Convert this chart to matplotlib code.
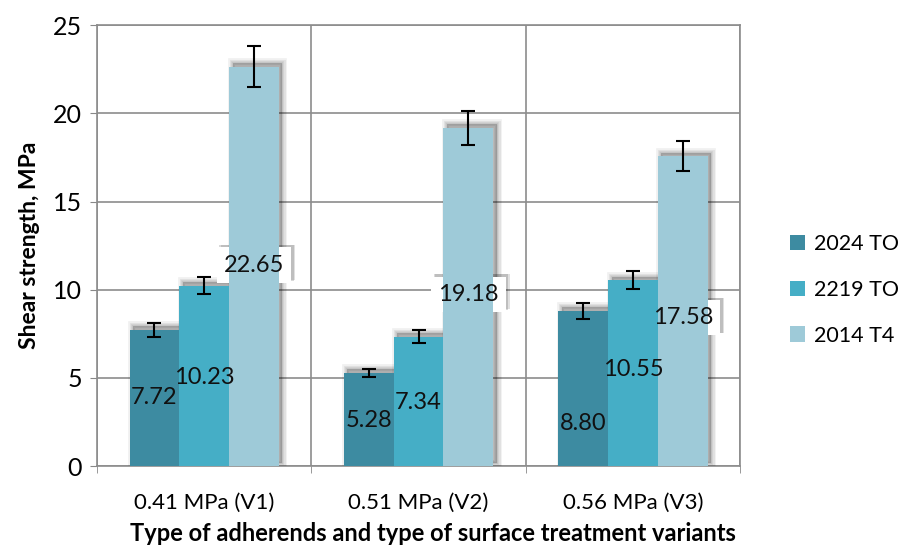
import numpy as np
import matplotlib
matplotlib.use('Agg')
import matplotlib.pyplot as plt
import matplotlib.patheffects as pe
import matplotlib.transforms as mtransforms
from matplotlib.patches import Patch

plt.rcParams['font.family'] = ['Lato', 'DejaVu Sans']

# data
categories = ['0.41 MPa (V1)', '0.51 MPa (V2)', '0.56 MPa (V3)']
series = ['2024 TO', '2219 TO', '2014 T4']
values = [[7.72, 5.28, 8.80],
          [10.23, 7.34, 10.55],
          [22.65, 19.18, 17.58]]
errors = [[0.40, 0.25, 0.45],
          [0.50, 0.35, 0.50],
          [1.15, 0.95, 0.85]]
# where the data labels sit (y in MPa)
label_y = [[3.9, 2.6, 2.4],
           [5.0, 3.6, 5.45],
           [11.4, 9.75, 8.4]]
colors = ['#3d8ba1', '#45aec6', '#9ecad8']

fig = plt.figure(figsize=(9.11, 5.47), dpi=100)
ax = fig.add_axes([0.1065, 0.148, 0.706, 0.806])

x = np.arange(len(categories))
w = 0.232
offsets = [-w, 0, w]

# soft shadow: stacked translucent copies shifted up/right
shift = mtransforms.ScaledTranslation(2.5 / 72, 2.5 / 72, fig.dpi_scale_trans)
for i in range(len(series)):
    for lw in [7, 5, 3, 1.5]:
        ax.bar(x + offsets[i], values[i], width=w, color='#000000', edgecolor='#000000',
               linewidth=lw, alpha=0.06, zorder=2.9, transform=ax.transData + shift)

for i, s in enumerate(series):
    ax.bar(x + offsets[i], values[i], width=w, color=colors[i], zorder=3 + i * 0.1)
    ax.errorbar(x + offsets[i], values[i], yerr=errors[i], fmt='none',
                ecolor='black', elinewidth=1.5, capsize=5, capthick=1.5, zorder=6)

# data labels
for i in range(len(series)):
    for j in range(len(categories)):
        txt = f'{values[i][j]:.2f}'
        if i == 2:
            # white label box sitting behind the light bar
            t = ax.text(x[j] + offsets[i], label_y[i][j], txt, ha='center', va='center',
                        fontsize=17, color='none', zorder=3.05,
                        bbox=dict(boxstyle='square,pad=0.3', fc='white', ec='none'))
            t.get_bbox_patch().set_path_effects(
                [pe.SimplePatchShadow(offset=(3, 2), shadow_rgbFace='#000000', alpha=0.12),
                 pe.SimplePatchShadow(offset=(2, 1.5), shadow_rgbFace='#000000', alpha=0.15),
                 pe.Normal()])
        ax.text(x[j] + offsets[i], label_y[i][j], txt,
                ha='center', va='center', fontsize=17, color='#111111', zorder=7)

ax.set_xlim(-0.5, 2.5)
ax.set_ylim(0, 25)
ax.set_yticks(np.arange(0, 26, 5))
ax.set_xticks(x)
ax.set_xticklabels(categories, fontsize=16)
ax.set_xticks([-0.5, 0.5, 1.5, 2.5], minor=True)
ax.tick_params(axis='x', which='major', length=0, pad=19)
ax.tick_params(axis='x', which='minor', length=5, color='#888888')
ax.tick_params(axis='y', labelsize=18, length=5, color='#888888', pad=6)

ax.grid(axis='y', color='#8c8c8c', linewidth=1.2, zorder=0)
ax.grid(axis='x', which='minor', color='#8c8c8c', linewidth=1.2, zorder=0)
ax.set_axisbelow(True)
for sp in ax.spines.values():
    sp.set_color('#8c8c8c')
    sp.set_linewidth(1.2)

ax.set_ylabel('Shear strength, MPa', fontsize=16.5, fontweight='bold', labelpad=9)
ax.set_xlabel('Type of adherends and type of surface treatment variants',
              fontsize=17, fontweight='bold')
ax.xaxis.set_label_coords(0.522, -0.127)

handles = [Patch(facecolor=c, edgecolor='none') for c in colors]
ax.legend(handles, series, loc='center left', bbox_to_anchor=(1.058, 0.40), frameon=False,
          fontsize=15.5, handlelength=0.7, handleheight=0.7, labelspacing=1.2,
          handletextpad=0.4, borderaxespad=0.2)

fig.savefig('out.png', dpi=100)
